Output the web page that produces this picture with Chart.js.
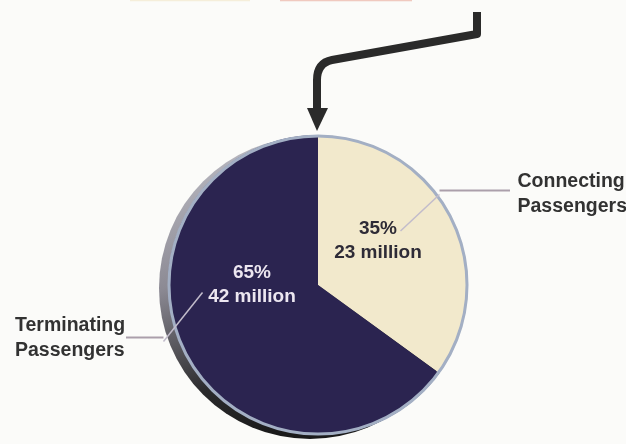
<!DOCTYPE html>
<html>
<head>
<meta charset="utf-8">
<script src="https://cdn.jsdelivr.net/npm/chart.js@4"></script>
<style>
  html, body { margin: 0; padding: 0; background: #fbfbf9; }
  #pieChart { display: block; }
</style>
</head>
<body>
<canvas id="pieChart" width="626" height="444"></canvas>
<script>
// data
const categories = ["Connecting Passengers", "Terminating Passengers"];
const shares = [35, 65];          // percent
const millions = [23, 42];        // passengers, millions

// style only (offsets relative to pie centre, in units of the radius)
const sliceColors = ["#f2e9cc", "#2b2450"];
const innerTextColors = ["#2e2b36", "#ece6f0"];
const labelStyle = [
  { inner: [0.40, -0.30], outer: [1.33, -0.69],
    leader: [[1.28, -0.63], [0.81, -0.63], [0.55, -0.36]] },
  { inner: [-0.44, -0.01], outer: [-2.02, 0.27],
    leader: [[-1.28, 0.35], [-1.03, 0.35], [-0.77, 0.05]] }
];

const decoPlugin = {
  id: "deco",
  beforeDatasetsDraw(chart) {
    const arc = chart.getDatasetMeta(0).data[0];
    const ctx = chart.ctx;
    const x = arc.x, y = arc.y, r = arc.outerRadius;
    // 3d edge on the left side
    ctx.save();
    const g = ctx.createLinearGradient(x - r, y - r, x - r * 0.3, y + r);
    g.addColorStop(0, "#c4c4cc");
    g.addColorStop(0.45, "#8c8a94");
    g.addColorStop(0.8, "#2a2a2c");
    g.addColorStop(1, "#1a1a1a");
    ctx.fillStyle = g;
    ctx.beginPath();
    ctx.arc(x - 8, y + 3, r + 1, 0, Math.PI * 2);
    ctx.fill();
    ctx.restore();
  },
  afterDatasetsDraw(chart) {
    const arc = chart.getDatasetMeta(0).data[0];
    const ctx = chart.ctx;
    const x = arc.x, y = arc.y, r = arc.outerRadius;
    ctx.save();
    // rim
    ctx.strokeStyle = "#a3afc4";
    ctx.lineWidth = 3;
    ctx.beginPath();
    ctx.arc(x, y, r - 1, 0, Math.PI * 2);
    ctx.stroke();

    // leader lines
    labelStyle.forEach((s) => {
      const p = s.leader.map(([dx, dy]) => [x + dx * r, y + dy * r]);
      ctx.lineWidth = 2;
      ctx.strokeStyle = "#ab9fab";
      ctx.beginPath();
      ctx.moveTo(p[0][0], p[0][1]);
      ctx.lineTo(p[1][0], p[1][1]);
      ctx.stroke();
      ctx.lineWidth = 1.5;
      ctx.strokeStyle = "#c2bccb";
      ctx.beginPath();
      ctx.moveTo(p[1][0], p[1][1] + 4);
      ctx.lineTo(p[2][0], p[2][1]);
      ctx.stroke();
    });

    // text in slices
    ctx.textAlign = "center";
    ctx.textBaseline = "middle";
    ctx.font = 'bold 19px "Liberation Sans Narrow", "Liberation Sans", Arial, sans-serif';
    shares.forEach((v, i) => {
      const s = labelStyle[i];
      const cx = x + s.inner[0] * r, cy = y + s.inner[1] * r;
      ctx.fillStyle = innerTextColors[i];
      ctx.fillText(v + "%", cx, cy - 11);
      ctx.fillText(millions[i] + " million", cx, cy + 13);
    });

    // outside category labels
    ctx.font = 'bold 19.5px "Liberation Sans", Arial, sans-serif';
    ctx.fillStyle = "#323232";
    ctx.textAlign = "left";
    categories.forEach((c, i) => {
      const s = labelStyle[i];
      const lx = x + s.outer[0] * r, ly = y + s.outer[1] * r;
      const words = c.split(" ");
      ctx.fillText(words[0], lx, ly);
      ctx.fillText(words[1], lx, ly + 25);
    });

    // arrow pointing at the pie top
    const top = y - r;
    ctx.strokeStyle = "#2a2a2a";
    ctx.fillStyle = "#2a2a2a";
    ctx.lineWidth = 8;
    ctx.lineJoin = "round";
    ctx.beginPath();
    ctx.moveTo(x + 159, top - 123);
    ctx.lineTo(x + 159, top - 101);
    ctx.lineTo(x + 14, top - 75);
    ctx.quadraticCurveTo(x - 1, top - 72, x - 1, top - 55);
    ctx.lineTo(x - 1, top - 24);
    ctx.stroke();
    ctx.beginPath();
    ctx.moveTo(x - 11, top - 27);
    ctx.lineTo(x + 10, top - 27);
    ctx.lineTo(x - 1, top - 4);
    ctx.closePath();
    ctx.fill();

    // cut-off heading at the very top
    ctx.lineWidth = 1.5;
    ctx.strokeStyle = "rgba(226,140,120,0.45)";
    ctx.beginPath();
    ctx.moveTo(280, 0.5);
    ctx.lineTo(412, 0.5);
    ctx.stroke();
    ctx.strokeStyle = "rgba(236,214,160,0.35)";
    ctx.beginPath();
    ctx.moveTo(130, 0.5);
    ctx.lineTo(250, 0.5);
    ctx.stroke();
    ctx.restore();
  }
};

new Chart(document.getElementById("pieChart"), {
  type: "pie",
  data: {
    labels: categories,
    datasets: [{
      data: shares,
      backgroundColor: sliceColors,
      borderWidth: 0
    }]
  },
  options: {
    responsive: false,
    animation: false,
    layout: { padding: { left: 168, right: 158, top: 135, bottom: 9 } },
    plugins: {
      legend: { display: false },
      tooltip: { enabled: false }
    }
  },
  plugins: [decoPlugin]
});
</script>
</body>
</html>
